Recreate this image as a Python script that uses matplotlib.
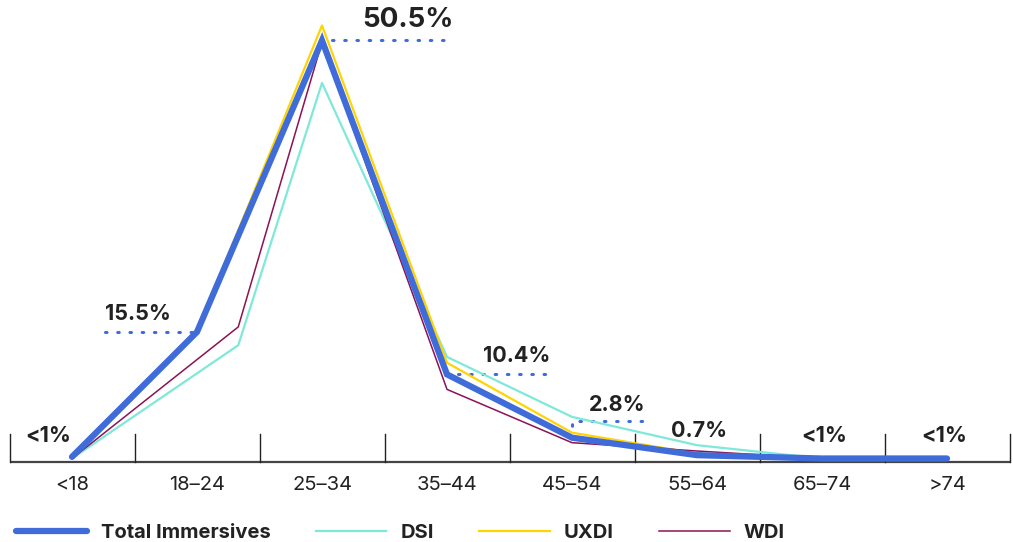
import matplotlib
matplotlib.use("Agg")
import matplotlib.pyplot as plt

plt.rcParams['font.family'] = ['Inter', 'DejaVu Sans']

# age groups and shares (%)
age_groups = ["<18", "18\u201324", "25\u201334", "35\u201344", "45\u201354", "55\u201364", "65\u201374", ">74"]

total_x = [0, 1, 2, 3, 4, 5, 6, 7]
total_vals = [0.5, 15.5, 50.5, 10.4, 2.8, 0.7, 0.3, 0.3]

dsi_x = [0, 1.33, 2, 3, 4, 5, 6, 7]
dsi_vals = [0.3, 13.9, 45.4, 12.5, 5.3, 1.9, 0.3, 0.3]

uxdi_x = [0, 1, 2, 3, 4, 5, 6, 7]
uxdi_vals = [0.5, 15.6, 52.3, 11.8, 3.4, 0.9, 0.3, 0.3]

wdi_x = [0, 1.33, 2, 3, 4, 5, 6, 7]
wdi_vals = [0.3, 16.1, 50.3, 8.6, 2.2, 1.2, 0.3, 0.3]

BLUE = "#3f6cd8"
CYAN = "#7ee9d9"
YELLOW = "#ffd400"
MAROON = "#8c1253"
TXT = "#222222"

fig = plt.figure(figsize=(10.13, 5.42), dpi=100)
ax = fig.add_axes([9.5 / 1013, 81 / 542, 1000 / 1013, 458 / 542])
ax.set_xlim(-0.5, 7.5)
ax.set_ylim(0, 55)
for s in ax.spines.values():
    s.set_visible(False)
ax.set_yticks([])

# baseline and separators
ax.plot([-0.5, 7.5], [-0.12, -0.12], color="#444444", lw=1.6, clip_on=False, solid_capstyle="butt")
for i in range(9):
    ax.plot([i - 0.5, i - 0.5], [-0.12, 3.2], color="#222222", lw=1.0, clip_on=False)

ax.plot(dsi_x, dsi_vals, color=CYAN, lw=1.6, label="DSI", zorder=3, clip_on=False)
ax.plot(uxdi_x, uxdi_vals, color=YELLOW, lw=1.6, label="UXDI", zorder=3, clip_on=False)
ax.plot(wdi_x, wdi_vals, color=MAROON, lw=1.1, label="WDI", zorder=3, clip_on=False)
ax.plot(total_x, total_vals, color=BLUE, lw=4.5, label="Total Immersives", zorder=4,
        solid_capstyle="round", solid_joinstyle="miter", clip_on=False)

ax.set_xticks(range(len(age_groups)))
ax.set_xticklabels(age_groups, fontsize=14.5, color=TXT)
ax.tick_params(axis="x", length=0, pad=11)

dots = dict(color=BLUE, lw=2.2, linestyle=(0, (0.5, 3.5)), dash_capstyle="round", zorder=2)
big = dict(fontsize=15.5, fontweight="bold", color=TXT, va="center")

# callouts
ax.plot([0.264, 1.0], [15.5, 15.5], **dots)
ax.text(0.264, 17.7, "15.5%", ha="left", **big)

ax.plot([2.08, 3.04], [50.5, 50.5], **dots)
ax.text(3.05, 52.9, "50.5%", fontsize=20, fontweight="bold", color=TXT, ha="right", va="center")

ax.plot([3.09, 3.84], [10.4, 10.4], **dots)
ax.text(3.56, 12.6, "10.4%", ha="center", **big)

ax.plot([4.0, 4.0, 4.62], [2.8, 4.8, 4.8], **dots)
ax.text(4.36, 6.7, "2.8%", ha="center", **big)

ax.text(5.02, 3.6, "0.7%", ha="center", **big)

for xi in [-0.19, 6.02, 6.98]:
    ax.text(xi, 3.0, "<1%", ha="center", **big)

handles, labels = ax.get_legend_handles_labels()
order = [3, 0, 1, 2]
leg = fig.legend([handles[i] for i in order], [labels[i] for i in order],
                 loc="center left", bbox_to_anchor=(0.016, 0.017), ncol=4, frameon=False,
                 handlelength=3.5, handletextpad=0.7, columnspacing=2.25, borderpad=0,
                 borderaxespad=0, prop={"size": 14.5, "weight": "bold"})
for t in leg.get_texts():
    t.set_color(TXT)

fig.savefig("out.png", dpi=100)
